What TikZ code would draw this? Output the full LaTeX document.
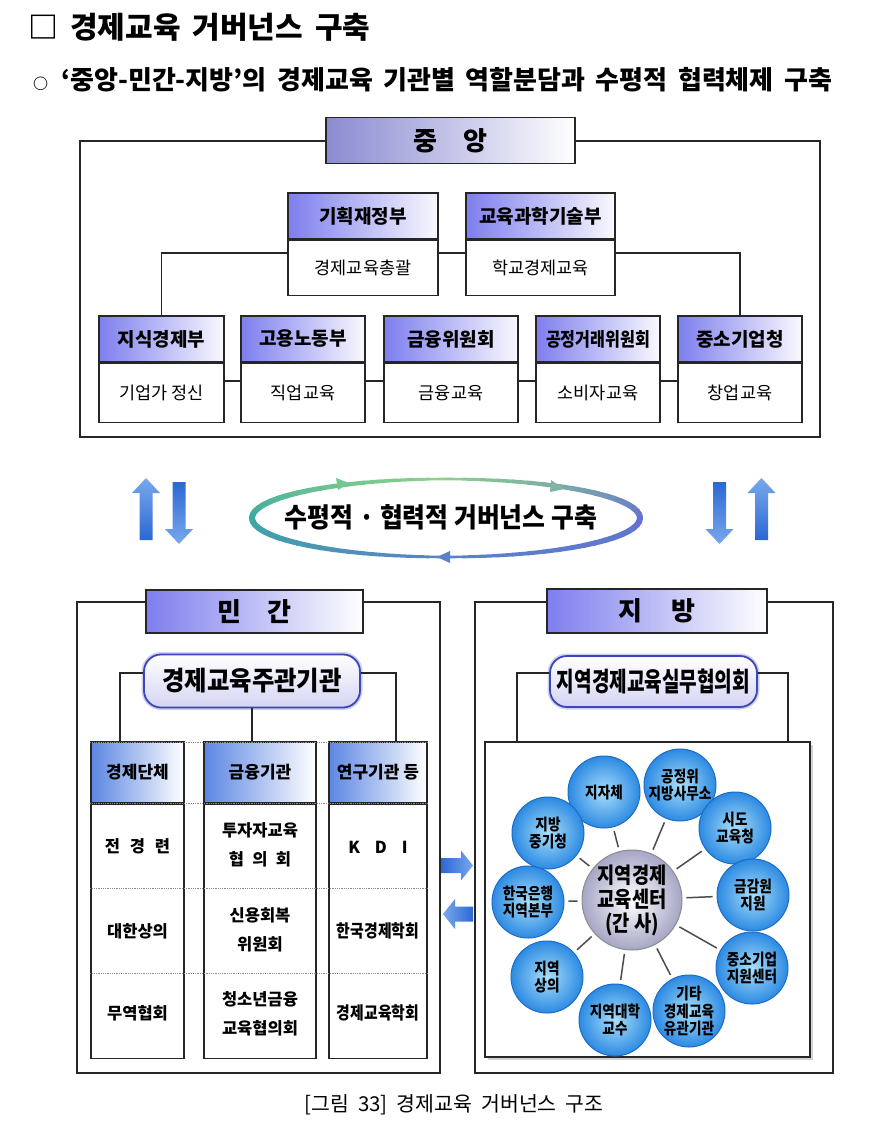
\documentclass[tikz,border=0pt]{standalone}
\usepackage{fontspec}
\setmainfont{Noto Sans CJK KR}
\newfontfamily\midkr{Noto Sans CJK KR}[FakeStretch=0.92]
\newfontfamily\narrowkr{Noto Sans CJK KR}[FakeStretch=0.85]
\newfontfamily\tightkr{Noto Sans CJK KR}[FakeStretch=0.72]
\newcommand\headfont{\bfseries\fontsize{30}{30}\selectfont\spaceskip=12pt\relax}
\newcommand\leadfont{\bfseries\fontsize{26}{26}\selectfont\spaceskip=10.5pt\relax}
\newcommand\capfont{\fontsize{20.5}{20.5}\selectfont\spaceskip=9pt\relax}
\usepackage{xcolor}
\usepackage{tikz}
\usetikzlibrary{arrows.meta,positioning,calc,shadows}
\definecolor{TitleViolet}{HTML}{8A8AD2}
\definecolor{HeadViolet}{HTML}{7E7EEE}
\definecolor{HeadBlue}{HTML}{5C86E2}
\definecolor{PillEdge}{HTML}{3C46B8}
\definecolor{PillFill}{HTML}{D4D4F4}
\definecolor{BallIn}{HTML}{A8DEFA}
\definecolor{BallOut}{HTML}{2C8AE2}
\definecolor{BallEdge}{HTML}{1E6CC6}
\definecolor{HubOut}{HTML}{A6A6C6}
\definecolor{ArrowDark}{HTML}{2C68D4}
\definecolor{ArrowLight}{HTML}{78A8EC}
\definecolor{RingTeal}{HTML}{3CAAA0}
\definecolor{RingGreen}{HTML}{8CD28C}
\definecolor{RingPurple}{HTML}{6470D2}
\definecolor{RingBlue}{HTML}{5A82C8}

\begin{document}
\begin{tikzpicture}[x=1pt,y=-1pt,
  sect/.style={draw=black!85,line width=1.6,inner sep=0},
  ttl/.style={draw=black!85,line width=1.6,inner sep=0,left color=TitleViolet,right color=white,font=\bfseries\fontsize{26}{26}\selectfont},
  hdr/.style={draw=black!85,line width=1.3,inner sep=0,minimum height=46,left color=HeadViolet,right color=HeadViolet!5,font=\bfseries\fontsize{19}{19}\selectfont},
  cell/.style={draw=black!85,line width=1.3,inner sep=0,fill=white,font=\fontsize{17.5}{17.5}\selectfont},
  colhdr/.style={draw=black!85,line width=1.3,inner sep=0,minimum height=61,left color=HeadBlue,right color=white,font=\bfseries\fontsize{17}{17}\selectfont},
  colbody/.style={draw=black!85,line width=1.3,inner sep=0,fill=white,minimum height=254},
  entry/.style={inner sep=0,align=center,font=\bfseries\fontsize{16.5}{29}\selectfont},
  entrynarrow/.style={inner sep=0,align=center,font=\narrowkr\bfseries\fontsize{17.5}{29}\selectfont},
  pill/.style={draw=PillEdge,line width=1.8,rounded corners=17,inner sep=0,top color=white,bottom color=PillFill,preaction={draw=PillEdge!25,line width=5}},
  ball/.style={circle,minimum size=72,inner sep=0,draw=BallEdge,line width=1,inner color=BallIn,outer color=BallOut,align=center,font=\narrowkr\bfseries\fontsize{16}{17.5}\selectfont},
  hub/.style={circle,minimum size=100,inner sep=0,draw=black!45,line width=1,inner color=white,outer color=HubOut,align=center,font=\narrowkr\bfseries\fontsize{22}{24}\selectfont},
  link/.style={draw=black!85,line width=1.3},
  spoke/.style={draw=black!70,line width=1.5,shorten <=4pt,shorten >=4pt},
  dotrule/.style={draw=black!45,line width=0.8,densely dotted}
]
\path[fill=white] (0,0) rectangle (882,1143);
\useasboundingbox (0,0) rectangle (882,1143);

\node[anchor=west,inner sep=0,font=\headfont] (head) at (28,27) {□ 경제교육 거버넌스 구축};
\node[anchor=west,inner sep=0,font=\leadfont] (lead) at (33,80) {{\fontsize{15}{15}\selectfont ○}\hspace{13pt}‘중앙-민간-지방’의 경제교육 기관별 역할분담과 수평적 협력체제 구축};

\node[sect,minimum width=740,minimum height=296] (cen) at (450,289) {};
\node[ttl,minimum width=249,minimum height=46] (cenT) at (450.5,140.5) {중\hspace{1em}앙};

\node[hdr,minimum width=150] (mosf) at (363,216) {기획재정부};
\node[cell,minimum width=150,minimum height=55,below=0pt of mosf] (mosfB) {경제교육총괄};
\node[hdr,minimum width=149] (moe) at (540.5,216) {교육과학기술부};
\node[cell,minimum width=149,minimum height=55,below=0pt of moe] (moeB) {학교경제교육};

\node[hdr,minimum width=125] (mke) at (161.5,339) {지식경제부};
\node[cell,minimum width=125,minimum height=59,below=0pt of mke] (mkeB) {기업가 정신};
\node[hdr,minimum width=124] (mol) at (303,339) {고용노동부};
\node[cell,minimum width=124,minimum height=59,below=0pt of mol] (molB) {직업교육};
\node[hdr,minimum width=134] (fsc) at (451,339) {금융위원회};
\node[cell,minimum width=134,minimum height=59,below=0pt of fsc] (fscB) {금융교육};
\node[hdr,minimum width=124,font=\narrowkr\bfseries\fontsize{19}{19}\selectfont] (ftc) at (598,339) {공정거래위원회};
\node[cell,minimum width=124,minimum height=59,below=0pt of ftc] (ftcB) {소비자교육};
\node[hdr,minimum width=124] (smba) at (740,339) {중소기업청};
\node[cell,minimum width=124,minimum height=59,below=0pt of smba] (smbaB) {창업교육};

\coordinate (rowline) at (0,253);
\coordinate (botline) at (0,381);
\draw[link] (mosfB.east |- rowline) -- (moeB.west |- rowline);
\draw[link] (mosfB.west |- rowline) -| (mke.north);
\draw[link] (moeB.east |- rowline) -| (smba.north);
\foreach \a/\b in {mkeB/molB,molB/fscB,fscB/ftcB,ftcB/smbaB}
  \draw[link] (\a.east |- botline) -- (\b.west |- botline);

\foreach \cx/\tip/\tail/\tc/\bc in {146/478/540/ArrowLight/ArrowDark,179/544/482/ArrowDark/ArrowLight,719.5/544/482/ArrowDark/ArrowLight,761.5/478/540/ArrowLight/ArrowDark}{
  \pgfmathsetmacro\base{\tip+15*sign(\tail-\tip)}
  \shade[top color=\tc,bottom color=\bc] (\cx-6.5,\tail) -- (\cx-6.5,\base) -- (\cx-14,\base) -- (\cx,\tip) -- (\cx+14,\base) -- (\cx+6.5,\base) -- (\cx+6.5,\tail) -- cycle;
}

\foreach \ca/\cb/\s in {RingPurple/RingGreen/0,RingGreen/RingTeal/90,RingTeal/RingBlue/180,RingBlue/RingPurple/270}{
  \foreach \k in {0,...,17}{
    \pgfmathtruncatemacro\mix{100-\k*100/18}
    \pgfmathsetmacro\ta{\s+\k*5}
    \pgfmathsetmacro\tb{\ta+5}
    \pgfmathsetmacro\lw{2.5+3.5*abs(cos(\ta+2.5))}
    \draw[line width=\lw,line cap=round,color=\ca!\mix!\cb] ({446+194*cos(\ta)},{518-39*sin(\ta)}) -- ({446+194*cos(\tb)},{518-39*sin(\tb)});
  }
}
\fill[RingGreen!70!RingTeal] (349,483) -- (336,478) -- (338,490) -- cycle;
\fill[RingGreen!70!RingPurple] (564,489) -- (551,480) -- (550,492) -- cycle;
\fill[RingBlue] (437,557) -- (450,551) -- (450,563) -- cycle;
\node[font=\midkr\bfseries\fontsize{27}{27}\selectfont] (gov) at (441,517) {수평적 · 협력적 거버넌스 구축};

\node[sect,minimum width=363,minimum height=471] (pri) at (258.5,837.5) {};
\node[ttl,minimum width=217,minimum height=43,left color=HeadViolet] (priT) at (254.5,611.5) {민\hspace{1em}간};
\node[pill,minimum width=216,minimum height=53,font=\midkr\bfseries\fontsize{26.5}{26.5}\selectfont] (priP) at (252,681) {경제교육주관기관};

\node[colhdr,minimum width=93] (biz) at (137.5,772.5) {경제단체};
\node[colbody,minimum width=93,below=0pt of biz] (bizB) {};
\node[colhdr,minimum width=112] (fin) at (260,772.5) {금융기관};
\node[colbody,minimum width=112,below=0pt of fin] (finB) {};
\node[colhdr,minimum width=98] (res) at (378,772.5) {연구기관 등};
\node[colbody,minimum width=98,below=0pt of res] (resB) {};
\foreach \y in {742,803,888,973}
  \draw[dotrule] (biz.west |- 0,\y) -- (res.east |- 0,\y);

\node[entry] (e11) at (137.5,846) {전\hspace{.6em}경\hspace{.6em}련};
\node[entry] (e12) at (137.5,931) {대한상의};
\node[entry] (e13) at (137.5,1013) {무역협회};
\node[entry] (e21) at (260,845) {투자자교육\\협\hspace{.5em}의\hspace{.5em}회};
\node[entry] (e22) at (260,930) {신용회복\\위원회};
\node[entry] (e23) at (260,1013.5) {청소년금융\\교육협의회};
\node[entry] (e31) at (378,847) {K\hspace{.9em}D\hspace{.9em}I};
\node[entrynarrow] (e32) at (378,931) {한국경제학회};
\node[entrynarrow] (e33) at (378,1013) {경제교육학회};

\coordinate (pl) at (120,673);
\coordinate (pr) at (396,673);
\draw[link] (priP.west |- pl) -- (pl) -- (pl |- biz.north);
\draw[link] (priP.east |- pr) -- (pr) -- (pr |- res.north);
\draw[link] (priP.south) -- (priP.south |- fin.north);

\node[sect,minimum width=358,minimum height=471] (loc) at (654,837.5) {};
\node[ttl,minimum width=220,minimum height=44,left color=HeadViolet] (locT) at (657,611) {지\hspace{1.1em}방};
\node[pill,minimum width=207,minimum height=51,font=\tightkr\bfseries\fontsize{26.5}{26.5}\selectfont] (locP) at (653.5,681.5) {지역경제교육실무협의회};
\node[draw=black!85,line width=1.3,fill=white,inner sep=0,minimum width=325,minimum height=315,drop shadow={shadow xshift=3pt,shadow yshift=-3pt,opacity=0.35}] (net) at (647.5,899.5) {};
\coordinate (ql) at (517,673);
\coordinate (qr) at (788,673);
\draw[link] (locP.west |- ql) -- (ql) -- (ql |- net.north);
\draw[link] (locP.east |- qr) -- (qr) -- (qr |- net.north);

\foreach \tail/\tip/\cy/\lc/\rc in {441/473/865.5/ArrowDark/ArrowLight,473/443/914/ArrowLight/ArrowDark}{
  \pgfmathsetmacro\base{\tip+12*sign(\tail-\tip)}
  \shade[left color=\lc,right color=\rc] (\tail,\cy-7.5) -- (\base,\cy-7.5) -- (\base,\cy-15) -- (\tip,\cy) -- (\base,\cy+15) -- (\base,\cy+7.5) -- (\tail,\cy+7.5) -- cycle;
}

\node[hub] (hub) at (632,900) {지역경제\\교육센터\\(간 사)};
\node[ball] (s1) at (604,792) {지자체};
\node[ball] (s2) at (680,785) {공정위\\지방사무소};
\node[ball] (s3) at (735,828) {시도\\교육청};
\node[ball] (s4) at (753,895) {금감원\\지원};
\node[ball] (s5) at (752,968) {중소기업\\지원센터};
\node[ball] (s6) at (689,1011) {기타\\경제교육\\유관기관};
\node[ball] (s7) at (615,1020) {지역대학\\교수};
\node[ball] (s8) at (547,977) {지역\\상의};
\node[ball] (s9) at (528,902) {한국은행\\지역본부};
\node[ball] (s10) at (548,833) {지방\\중기청};
\foreach \s in {s1,s2,s3,s4,s5,s6,s7,s8,s9,s10}
  \draw[spoke] (hub) -- (\s);

\node[font=\capfont] (cap) at (454,1105) {[그림 33] 경제교육 거버넌스 구조};
\end{tikzpicture}
\end{document}
